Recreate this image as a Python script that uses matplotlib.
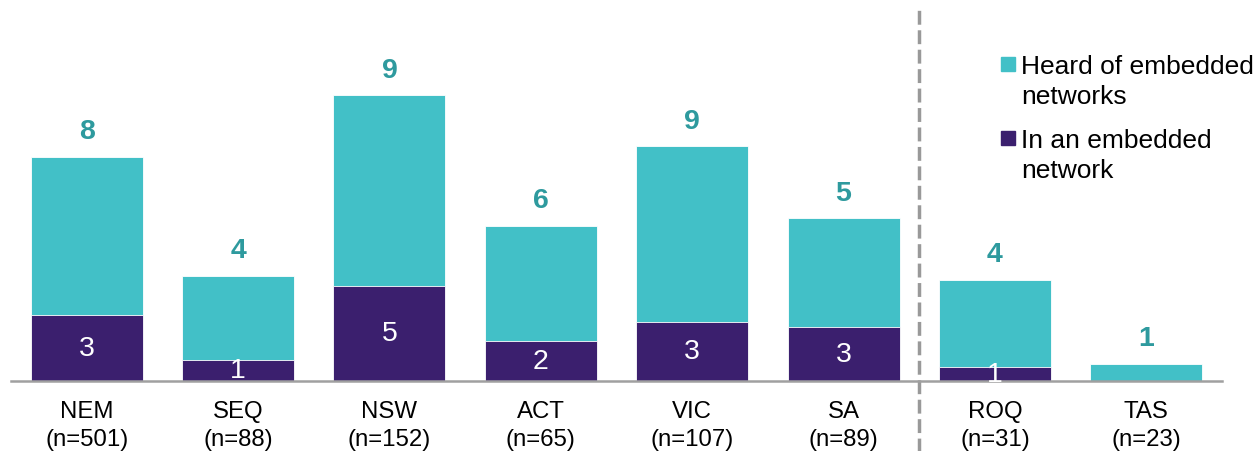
import matplotlib.pyplot as plt
import numpy as np
from matplotlib.patches import Rectangle

plt.rcParams['font.family'] = ['Liberation Sans', 'DejaVu Sans']

regions = ['NEM', 'SEQ', 'NSW', 'ACT', 'VIC', 'SA', 'ROQ', 'TAS']
sample_n = [501, 88, 152, 65, 107, 89, 31, 23]
# bar heights as drawn
heard = [7.47, 3.50, 9.53, 5.17, 7.83, 5.43, 3.37, 0.57]
in_network = [2.20, 0.70, 3.17, 1.33, 1.97, 1.80, 0.47, 0.0]
# printed labels
heard_labels = ['8', '4', '9', '6', '9', '5', '4', '1']
in_labels = ['3', '1', '5', '2', '3', '3', '1', '']

teal = '#42C0C7'
purple = '#3B1F6E'
label_teal = '#2E9A9E'

fig = plt.figure(figsize=(12.57, 4.52), dpi=100)
ax = fig.add_axes([11 / 1257, 70 / 452, 1211 / 1257, 382 / 452])

x = np.arange(len(regions))
ax.bar(x, heard, width=0.74, color=teal, edgecolor='white', linewidth=0.6)
ax.bar(x, in_network, width=0.74, color=purple, edgecolor='white', linewidth=0.6)

for xi, h, lab in zip(x, heard, heard_labels):
    ax.text(xi, h + 0.85, lab, ha='center', va='center', fontsize=20.5,
            fontweight='bold', color=label_teal)
for xi, h, lab in zip(x, in_network, in_labels):
    if lab:
        ax.text(xi, h / 2, lab, ha='center', va='center', fontsize=20.5, color='white')

ax.set_xlim(-0.5, 7.5)
ax.set_ylim(0, 12.73)
ax.set_xticks(x)
ax.set_xticklabels([f'{r}\n(n={n})' for r, n in zip(regions, sample_n)],
                   fontsize=17.3, linespacing=1.35)
ax.tick_params(axis='x', length=0, pad=14)
ax.set_yticks([])
for s in ['top', 'right', 'left']:
    ax.spines[s].set_visible(False)
ax.spines['bottom'].set_color('#A0A0A0')
ax.spines['bottom'].set_linewidth(1.8)

# divider between NEM regions and others
ax.axvline(5.5, ymin=-0.2, ymax=0.985, color='#999999', lw=2.5,
           linestyle=(0, (4, 1.6)), clip_on=False)

# legend
for ty, name, col in [(65, 'Heard of embedded\nnetworks', teal),
                      (139, 'In an embedded\nnetwork', purple)]:
    fig.patches.append(Rectangle((1001 / 1257, 1 - (ty + 7) / 452), 14 / 1257, 14 / 452,
                                 transform=fig.transFigure, color=col))
    fig.text(1021 / 1257, 1 - (ty - 10) / 452, name, fontsize=19, va='top',
             ha='left', linespacing=1.32)

fig.savefig('out.png', dpi=100)
